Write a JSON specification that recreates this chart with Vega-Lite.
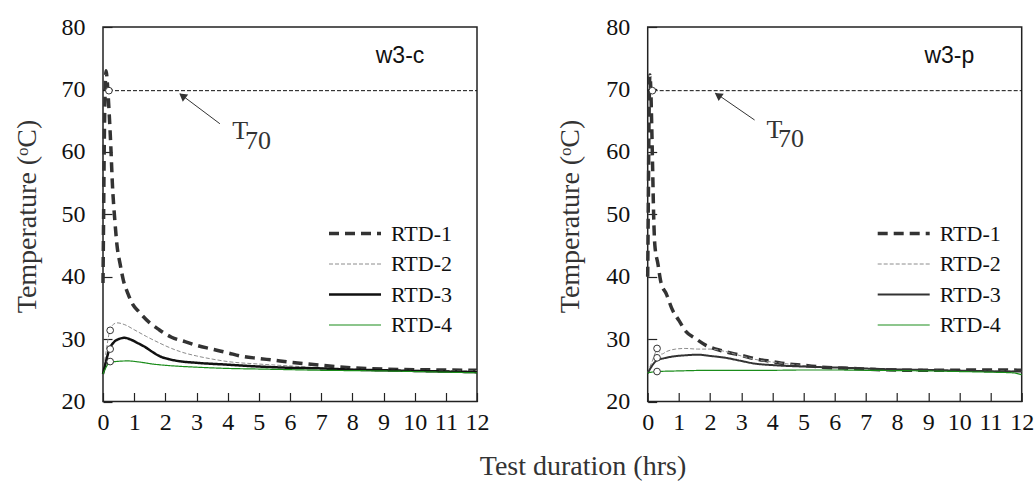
{
  "$schema": "https://vega.github.io/schema/vega-lite/v6.json",
  "autosize": {"type": "pad"},
  "padding": {"left": 12, "top": 14, "right": 10, "bottom": 5},
  "bounds": "flush",
  "spacing": 170.7,
  "background": "white",
  "datasets": {
    "series": [
      {"panel": "c", "rtd": "RTD-1", "t": 0, "T": 39},
      {"panel": "c", "rtd": "RTD-1", "t": 0.02, "T": 50},
      {"panel": "c", "rtd": "RTD-1", "t": 0.04, "T": 61},
      {"panel": "c", "rtd": "RTD-1", "t": 0.07, "T": 70},
      {"panel": "c", "rtd": "RTD-1", "t": 0.1, "T": 73},
      {"panel": "c", "rtd": "RTD-1", "t": 0.14, "T": 71},
      {"panel": "c", "rtd": "RTD-1", "t": 0.2, "T": 66},
      {"panel": "c", "rtd": "RTD-1", "t": 0.25, "T": 61},
      {"panel": "c", "rtd": "RTD-1", "t": 0.3, "T": 55},
      {"panel": "c", "rtd": "RTD-1", "t": 0.38, "T": 49},
      {"panel": "c", "rtd": "RTD-1", "t": 0.45, "T": 45},
      {"panel": "c", "rtd": "RTD-1", "t": 0.55, "T": 42},
      {"panel": "c", "rtd": "RTD-1", "t": 0.65, "T": 39.5},
      {"panel": "c", "rtd": "RTD-1", "t": 0.8, "T": 37.3},
      {"panel": "c", "rtd": "RTD-1", "t": 0.95, "T": 35.6},
      {"panel": "c", "rtd": "RTD-1", "t": 1.15, "T": 34.4},
      {"panel": "c", "rtd": "RTD-1", "t": 1.5, "T": 32.6},
      {"panel": "c", "rtd": "RTD-1", "t": 1.8, "T": 31.5},
      {"panel": "c", "rtd": "RTD-1", "t": 2.2, "T": 30.3},
      {"panel": "c", "rtd": "RTD-1", "t": 2.63, "T": 29.6},
      {"panel": "c", "rtd": "RTD-1", "t": 3.0, "T": 29.0},
      {"panel": "c", "rtd": "RTD-1", "t": 3.5, "T": 28.4},
      {"panel": "c", "rtd": "RTD-1", "t": 4.0, "T": 27.8},
      {"panel": "c", "rtd": "RTD-1", "t": 4.5, "T": 27.2},
      {"panel": "c", "rtd": "RTD-1", "t": 5.0, "T": 26.9},
      {"panel": "c", "rtd": "RTD-1", "t": 5.5, "T": 26.6},
      {"panel": "c", "rtd": "RTD-1", "t": 6.0, "T": 26.3},
      {"panel": "c", "rtd": "RTD-1", "t": 7.0, "T": 25.8},
      {"panel": "c", "rtd": "RTD-1", "t": 8.0, "T": 25.4},
      {"panel": "c", "rtd": "RTD-1", "t": 9.0, "T": 25.2},
      {"panel": "c", "rtd": "RTD-1", "t": 10.0, "T": 25.1},
      {"panel": "c", "rtd": "RTD-1", "t": 11.0, "T": 25.05},
      {"panel": "c", "rtd": "RTD-1", "t": 12.0, "T": 25.0},

      {"panel": "c", "rtd": "RTD-2", "t": 0, "T": 24.6},
      {"panel": "c", "rtd": "RTD-2", "t": 0.1, "T": 28},
      {"panel": "c", "rtd": "RTD-2", "t": 0.2, "T": 31},
      {"panel": "c", "rtd": "RTD-2", "t": 0.3, "T": 32.2},
      {"panel": "c", "rtd": "RTD-2", "t": 0.45, "T": 32.6},
      {"panel": "c", "rtd": "RTD-2", "t": 0.7, "T": 32.3},
      {"panel": "c", "rtd": "RTD-2", "t": 1.0, "T": 31.5},
      {"panel": "c", "rtd": "RTD-2", "t": 1.4, "T": 30.4},
      {"panel": "c", "rtd": "RTD-2", "t": 1.8, "T": 29.4},
      {"panel": "c", "rtd": "RTD-2", "t": 2.2, "T": 28.5},
      {"panel": "c", "rtd": "RTD-2", "t": 2.6, "T": 27.8},
      {"panel": "c", "rtd": "RTD-2", "t": 3.0, "T": 27.3},
      {"panel": "c", "rtd": "RTD-2", "t": 3.5, "T": 26.8},
      {"panel": "c", "rtd": "RTD-2", "t": 4.0, "T": 26.4},
      {"panel": "c", "rtd": "RTD-2", "t": 5.0, "T": 26.0},
      {"panel": "c", "rtd": "RTD-2", "t": 6.0, "T": 25.7},
      {"panel": "c", "rtd": "RTD-2", "t": 7.0, "T": 25.4},
      {"panel": "c", "rtd": "RTD-2", "t": 8.0, "T": 25.2},
      {"panel": "c", "rtd": "RTD-2", "t": 9.0, "T": 25.05},
      {"panel": "c", "rtd": "RTD-2", "t": 10.0, "T": 25.0},
      {"panel": "c", "rtd": "RTD-2", "t": 11.0, "T": 24.95},
      {"panel": "c", "rtd": "RTD-2", "t": 12.0, "T": 24.9},

      {"panel": "c", "rtd": "RTD-3", "t": 0, "T": 24.4},
      {"panel": "c", "rtd": "RTD-3", "t": 0.1, "T": 26.5},
      {"panel": "c", "rtd": "RTD-3", "t": 0.2, "T": 28.3},
      {"panel": "c", "rtd": "RTD-3", "t": 0.35, "T": 29.5},
      {"panel": "c", "rtd": "RTD-3", "t": 0.5, "T": 30.0},
      {"panel": "c", "rtd": "RTD-3", "t": 0.7, "T": 30.2},
      {"panel": "c", "rtd": "RTD-3", "t": 0.9, "T": 29.9},
      {"panel": "c", "rtd": "RTD-3", "t": 1.1, "T": 29.4},
      {"panel": "c", "rtd": "RTD-3", "t": 1.36, "T": 28.7},
      {"panel": "c", "rtd": "RTD-3", "t": 1.6, "T": 27.9},
      {"panel": "c", "rtd": "RTD-3", "t": 1.8, "T": 27.3},
      {"panel": "c", "rtd": "RTD-3", "t": 2.1, "T": 26.8},
      {"panel": "c", "rtd": "RTD-3", "t": 2.4, "T": 26.5},
      {"panel": "c", "rtd": "RTD-3", "t": 3.0, "T": 26.2},
      {"panel": "c", "rtd": "RTD-3", "t": 4.0, "T": 25.9},
      {"panel": "c", "rtd": "RTD-3", "t": 5.0, "T": 25.6},
      {"panel": "c", "rtd": "RTD-3", "t": 6.0, "T": 25.4},
      {"panel": "c", "rtd": "RTD-3", "t": 7.0, "T": 25.3},
      {"panel": "c", "rtd": "RTD-3", "t": 8.0, "T": 25.1},
      {"panel": "c", "rtd": "RTD-3", "t": 9.0, "T": 25.0},
      {"panel": "c", "rtd": "RTD-3", "t": 10.0, "T": 24.9},
      {"panel": "c", "rtd": "RTD-3", "t": 11.0, "T": 24.8},
      {"panel": "c", "rtd": "RTD-3", "t": 12.0, "T": 24.7},

      {"panel": "c", "rtd": "RTD-4", "t": 0, "T": 24.4},
      {"panel": "c", "rtd": "RTD-4", "t": 0.1, "T": 25.5},
      {"panel": "c", "rtd": "RTD-4", "t": 0.2, "T": 26.2},
      {"panel": "c", "rtd": "RTD-4", "t": 0.4, "T": 26.4},
      {"panel": "c", "rtd": "RTD-4", "t": 0.8, "T": 26.5},
      {"panel": "c", "rtd": "RTD-4", "t": 1.2, "T": 26.3},
      {"panel": "c", "rtd": "RTD-4", "t": 1.6, "T": 26.0},
      {"panel": "c", "rtd": "RTD-4", "t": 2.0, "T": 25.8},
      {"panel": "c", "rtd": "RTD-4", "t": 3.0, "T": 25.5},
      {"panel": "c", "rtd": "RTD-4", "t": 4.0, "T": 25.3},
      {"panel": "c", "rtd": "RTD-4", "t": 5.0, "T": 25.2},
      {"panel": "c", "rtd": "RTD-4", "t": 6.0, "T": 25.1},
      {"panel": "c", "rtd": "RTD-4", "t": 7.0, "T": 25.0},
      {"panel": "c", "rtd": "RTD-4", "t": 8.0, "T": 24.95},
      {"panel": "c", "rtd": "RTD-4", "t": 9.0, "T": 24.9},
      {"panel": "c", "rtd": "RTD-4", "t": 10.0, "T": 24.8},
      {"panel": "c", "rtd": "RTD-4", "t": 11.0, "T": 24.7},
      {"panel": "c", "rtd": "RTD-4", "t": 12.0, "T": 24.6},

      {"panel": "p", "rtd": "RTD-1", "t": 0, "T": 40},
      {"panel": "p", "rtd": "RTD-1", "t": 0.02, "T": 52},
      {"panel": "p", "rtd": "RTD-1", "t": 0.04, "T": 64},
      {"panel": "p", "rtd": "RTD-1", "t": 0.07, "T": 72.3},
      {"panel": "p", "rtd": "RTD-1", "t": 0.1, "T": 70},
      {"panel": "p", "rtd": "RTD-1", "t": 0.13, "T": 64},
      {"panel": "p", "rtd": "RTD-1", "t": 0.16, "T": 57},
      {"panel": "p", "rtd": "RTD-1", "t": 0.19, "T": 50},
      {"panel": "p", "rtd": "RTD-1", "t": 0.23, "T": 45},
      {"panel": "p", "rtd": "RTD-1", "t": 0.33, "T": 42},
      {"panel": "p", "rtd": "RTD-1", "t": 0.42, "T": 39.2},
      {"panel": "p", "rtd": "RTD-1", "t": 0.6, "T": 37.2},
      {"panel": "p", "rtd": "RTD-1", "t": 0.8, "T": 34.6},
      {"panel": "p", "rtd": "RTD-1", "t": 1.0, "T": 33.0},
      {"panel": "p", "rtd": "RTD-1", "t": 1.23, "T": 31.2},
      {"panel": "p", "rtd": "RTD-1", "t": 1.5, "T": 30.2},
      {"panel": "p", "rtd": "RTD-1", "t": 1.87, "T": 29.0},
      {"panel": "p", "rtd": "RTD-1", "t": 2.4, "T": 28.1},
      {"panel": "p", "rtd": "RTD-1", "t": 3.0, "T": 27.4},
      {"panel": "p", "rtd": "RTD-1", "t": 3.5, "T": 26.8},
      {"panel": "p", "rtd": "RTD-1", "t": 4.0, "T": 26.4},
      {"panel": "p", "rtd": "RTD-1", "t": 4.5, "T": 26.0},
      {"panel": "p", "rtd": "RTD-1", "t": 5.0, "T": 25.8},
      {"panel": "p", "rtd": "RTD-1", "t": 5.6, "T": 25.5},
      {"panel": "p", "rtd": "RTD-1", "t": 6.5, "T": 25.3},
      {"panel": "p", "rtd": "RTD-1", "t": 7.5, "T": 25.1},
      {"panel": "p", "rtd": "RTD-1", "t": 8.5, "T": 25.0},
      {"panel": "p", "rtd": "RTD-1", "t": 9.5, "T": 25.0},
      {"panel": "p", "rtd": "RTD-1", "t": 10.5, "T": 25.05},
      {"panel": "p", "rtd": "RTD-1", "t": 11.5, "T": 25.05},
      {"panel": "p", "rtd": "RTD-1", "t": 12.0, "T": 25.0},

      {"panel": "p", "rtd": "RTD-2", "t": 0, "T": 24.6},
      {"panel": "p", "rtd": "RTD-2", "t": 0.15, "T": 26.5},
      {"panel": "p", "rtd": "RTD-2", "t": 0.3, "T": 28.2},
      {"panel": "p", "rtd": "RTD-2", "t": 0.45, "T": 27.6},
      {"panel": "p", "rtd": "RTD-2", "t": 0.6, "T": 28.0},
      {"panel": "p", "rtd": "RTD-2", "t": 0.9, "T": 28.4},
      {"panel": "p", "rtd": "RTD-2", "t": 1.2, "T": 28.5},
      {"panel": "p", "rtd": "RTD-2", "t": 1.6, "T": 28.4},
      {"panel": "p", "rtd": "RTD-2", "t": 2.0, "T": 28.4},
      {"panel": "p", "rtd": "RTD-2", "t": 2.5, "T": 28.0},
      {"panel": "p", "rtd": "RTD-2", "t": 3.0, "T": 27.3},
      {"panel": "p", "rtd": "RTD-2", "t": 3.6, "T": 26.6},
      {"panel": "p", "rtd": "RTD-2", "t": 4.2, "T": 26.2},
      {"panel": "p", "rtd": "RTD-2", "t": 4.7, "T": 25.9},
      {"panel": "p", "rtd": "RTD-2", "t": 5.3, "T": 25.6},
      {"panel": "p", "rtd": "RTD-2", "t": 6.3, "T": 25.4},
      {"panel": "p", "rtd": "RTD-2", "t": 7.5, "T": 25.2},
      {"panel": "p", "rtd": "RTD-2", "t": 8.5, "T": 25.1},
      {"panel": "p", "rtd": "RTD-2", "t": 9.5, "T": 25.0},
      {"panel": "p", "rtd": "RTD-2", "t": 10.5, "T": 24.9},
      {"panel": "p", "rtd": "RTD-2", "t": 11.5, "T": 24.9},
      {"panel": "p", "rtd": "RTD-2", "t": 12.0, "T": 24.8},

      {"panel": "p", "rtd": "RTD-3", "t": 0, "T": 24.5},
      {"panel": "p", "rtd": "RTD-3", "t": 0.15, "T": 25.8},
      {"panel": "p", "rtd": "RTD-3", "t": 0.3, "T": 26.6},
      {"panel": "p", "rtd": "RTD-3", "t": 0.5, "T": 26.9},
      {"panel": "p", "rtd": "RTD-3", "t": 0.8, "T": 27.2},
      {"panel": "p", "rtd": "RTD-3", "t": 1.2, "T": 27.4},
      {"panel": "p", "rtd": "RTD-3", "t": 1.6, "T": 27.5},
      {"panel": "p", "rtd": "RTD-3", "t": 2.0, "T": 27.3},
      {"panel": "p", "rtd": "RTD-3", "t": 2.5, "T": 27.0},
      {"panel": "p", "rtd": "RTD-3", "t": 3.0, "T": 26.5},
      {"panel": "p", "rtd": "RTD-3", "t": 3.4, "T": 26.1},
      {"panel": "p", "rtd": "RTD-3", "t": 4.1, "T": 25.8},
      {"panel": "p", "rtd": "RTD-3", "t": 5.0, "T": 25.6},
      {"panel": "p", "rtd": "RTD-3", "t": 6.3, "T": 25.4},
      {"panel": "p", "rtd": "RTD-3", "t": 7.5, "T": 25.2},
      {"panel": "p", "rtd": "RTD-3", "t": 8.5, "T": 25.1},
      {"panel": "p", "rtd": "RTD-3", "t": 9.5, "T": 25.0},
      {"panel": "p", "rtd": "RTD-3", "t": 10.5, "T": 24.9},
      {"panel": "p", "rtd": "RTD-3", "t": 11.5, "T": 24.8},
      {"panel": "p", "rtd": "RTD-3", "t": 12.0, "T": 24.8},

      {"panel": "p", "rtd": "RTD-4", "t": 0, "T": 24.6},
      {"panel": "p", "rtd": "RTD-4", "t": 0.3, "T": 24.8},
      {"panel": "p", "rtd": "RTD-4", "t": 1.0, "T": 24.9},
      {"panel": "p", "rtd": "RTD-4", "t": 2.0, "T": 25.0},
      {"panel": "p", "rtd": "RTD-4", "t": 3.0, "T": 25.0},
      {"panel": "p", "rtd": "RTD-4", "t": 4.0, "T": 25.0},
      {"panel": "p", "rtd": "RTD-4", "t": 5.0, "T": 25.05},
      {"panel": "p", "rtd": "RTD-4", "t": 6.0, "T": 25.05},
      {"panel": "p", "rtd": "RTD-4", "t": 7.0, "T": 25.0},
      {"panel": "p", "rtd": "RTD-4", "t": 8.0, "T": 24.95},
      {"panel": "p", "rtd": "RTD-4", "t": 9.0, "T": 24.9},
      {"panel": "p", "rtd": "RTD-4", "t": 10.0, "T": 24.8},
      {"panel": "p", "rtd": "RTD-4", "t": 11.0, "T": 24.7},
      {"panel": "p", "rtd": "RTD-4", "t": 11.7, "T": 24.6},
      {"panel": "p", "rtd": "RTD-4", "t": 12.0, "T": 24.3}
    ],
    "circles": [
      {"panel": "c", "t": 0.19, "T": 69.8},
      {"panel": "c", "t": 0.23, "T": 31.4},
      {"panel": "c", "t": 0.23, "T": 28.4},
      {"panel": "c", "t": 0.23, "T": 26.4},
      {"panel": "p", "t": 0.15, "T": 69.8},
      {"panel": "p", "t": 0.3, "T": 28.5},
      {"panel": "p", "t": 0.3, "T": 27.0},
      {"panel": "p", "t": 0.3, "T": 24.8}
    ],
    "threshold": [
      {"t": 0, "T": 69.8, "t2": 12, "T2": 69.8}
    ],
    "arrows": [
      {"panel": "c", "t": 3.75, "T": 64.5, "t2": 2.47, "T2": 69.3},
      {"panel": "p", "t": 3.43, "T": 65.1, "t2": 2.18, "T2": 69.4}
    ],
    "heads": [
      {"panel": "c", "t": 2.58, "T": 68.85},
      {"panel": "p", "t": 2.29, "T": 68.95}
    ],
    "labels": [
      {"panel": "c", "kind": "main", "text": "T", "t": 4.4, "T": 63.4},
      {"panel": "c", "kind": "sub", "text": "70", "t": 4.97, "T": 61.7},
      {"panel": "c", "kind": "name", "text": "w3-c", "t": 9.53, "T": 75.3},
      {"panel": "p", "kind": "main", "text": "T", "t": 4.07, "T": 63.5},
      {"panel": "p", "kind": "sub", "text": "70", "t": 4.6, "T": 62.1},
      {"panel": "p", "kind": "name", "text": "w3-p", "t": 9.68, "T": 75.4}
    ]
  },
  "hconcat": [
    {
      "width": 374,
      "height": 374.5,
      "encoding": {
        "x": {"field": "t", "type": "quantitative", "scale": {"domain": [0, 12], "nice": false, "zero": false},
              "axis": {"values": [0,1,2,3,4,5,6,7,8,9,10,11,12], "labelOverlap": false, "title": "Test duration (hrs)", "titleX": 479.5, "titleY": 73, "titleBaseline": "alphabetic"}},
        "y": {"field": "T", "type": "quantitative", "scale": {"domain": [20, 80], "nice": false, "zero": false},
              "axis": {"values": [20,30,40,50,60,70,80], "labelOverlap": false, "title": "Temperature (ᵒC)", "titleX": -76, "titleY": 189, "titleBaseline": "middle", "titleAngle": 270}}
      },
      "layer": [
        {
          "data": {"name": "series"},
          "transform": [{"filter": "datum.panel === 'c'"}],
          "mark": {"type": "line", "interpolate": "monotone"},
          "encoding": {
            "color": {"field": "rtd", "type": "nominal", "scale": {"domain": ["RTD-1","RTD-2","RTD-3","RTD-4"], "range": ["#333333","#8c8c8c","#111111","#1a8c1a"]},
                      "legend": {"orient": "none", "legendX": 224, "legendY": 194.5, "title": null, "labelFont": "Liberation Serif", "labelFontSize": 22,
                                 "encode": {"symbols": {"update": {
                                   "strokeDash": {"signal": "datum.value === 'RTD-1' ? [7,8] : datum.value === 'RTD-2' ? [4,2] : [1,0]"},
                                   "strokeWidth": {"signal": "datum.value === 'RTD-1' ? 3.5 : datum.value === 'RTD-3' ? 2.5 : 1"}}}}}},
            "strokeDash": {"field": "rtd", "type": "nominal", "scale": {"domain": ["RTD-1","RTD-2","RTD-3","RTD-4"], "range": [[10,6],[4,2],[1,0],[1,0]]}, "legend": null},
            "strokeWidth": {"field": "rtd", "type": "nominal", "scale": {"type": "ordinal", "domain": ["RTD-1","RTD-2","RTD-3","RTD-4"], "range": [3.5, 1, 2.5, 1.2]}, "legend": null}
          }
        },
        {
          "data": {"name": "threshold"},
          "mark": {"type": "rule", "stroke": "#111", "strokeWidth": 1, "strokeDash": [4, 2]},
          "encoding": {"x2": {"field": "t2"}, "y2": {"field": "T2"}}
        },
        {
          "data": {"name": "circles"},
          "transform": [{"filter": "datum.panel === 'c'"}],
          "mark": {"type": "point", "shape": "circle", "size": 45, "filled": true, "fill": "white", "stroke": "#333", "strokeWidth": 1, "opacity": 1}
        },
        {
          "data": {"name": "arrows"},
          "transform": [{"filter": "datum.panel === 'c'"}],
          "mark": {"type": "rule", "stroke": "#333", "strokeWidth": 1},
          "encoding": {"x2": {"field": "t2"}, "y2": {"field": "T2"}}
        },
        {
          "data": {"name": "heads"},
          "transform": [{"filter": "datum.panel === 'c'"}],
          "mark": {"type": "point", "shape": "triangle", "size": 30, "filled": true, "fill": "#333", "stroke": "#333", "angle": 307, "opacity": 1}
        },
        {
          "data": {"name": "labels"},
          "transform": [{"filter": "datum.panel === 'c' && datum.kind !== 'name'"}],
          "mark": {"type": "text", "font": "Liberation Serif", "fontSize": 26, "color": "#333", "align": "center", "baseline": "middle"},
          "encoding": {"text": {"field": "text"}}
        },
        {
          "data": {"name": "labels"},
          "transform": [{"filter": "datum.panel === 'c' && datum.kind === 'name'"}],
          "mark": {"type": "text", "font": "Liberation Sans", "fontSize": 23, "color": "#111", "align": "center", "baseline": "middle"},
          "encoding": {"text": {"field": "text"}}
        }
      ]
    },
    {
      "width": 374,
      "height": 374.5,
      "encoding": {
        "x": {"field": "t", "type": "quantitative", "scale": {"domain": [0, 12], "nice": false, "zero": false},
              "axis": {"values": [0,1,2,3,4,5,6,7,8,9,10,11,12], "labelOverlap": false, "title": null}},
        "y": {"field": "T", "type": "quantitative", "scale": {"domain": [20, 80], "nice": false, "zero": false},
              "axis": {"values": [20,30,40,50,60,70,80], "labelOverlap": false, "title": "Temperature (ᵒC)", "titleX": -77, "titleY": 189, "titleBaseline": "middle", "titleAngle": 270}}
      },
      "layer": [
        {
          "data": {"name": "series"},
          "transform": [{"filter": "datum.panel === 'p'"}],
          "mark": {"type": "line", "interpolate": "monotone"},
          "encoding": {
            "color": {"field": "rtd", "type": "nominal", "scale": {"domain": ["RTD-1","RTD-2","RTD-3","RTD-4"], "range": ["#333333","#8c8c8c","#333333","#1a8c1a"]},
                      "legend": {"orient": "none", "legendX": 228, "legendY": 194.5, "title": null, "labelFont": "Liberation Serif", "labelFontSize": 22,
                                 "encode": {"symbols": {"update": {
                                   "strokeDash": {"signal": "datum.value === 'RTD-1' ? [7,8] : datum.value === 'RTD-2' ? [4,2] : [1,0]"},
                                   "strokeWidth": {"signal": "datum.value === 'RTD-1' ? 3.5 : datum.value === 'RTD-3' ? 2 : 1"}}}}}},
            "strokeDash": {"field": "rtd", "type": "nominal", "scale": {"domain": ["RTD-1","RTD-2","RTD-3","RTD-4"], "range": [[10,6],[4,2],[1,0],[1,0]]}, "legend": null},
            "strokeWidth": {"field": "rtd", "type": "nominal", "scale": {"type": "ordinal", "domain": ["RTD-1","RTD-2","RTD-3","RTD-4"], "range": [3.5, 1, 2, 1.2]}, "legend": null}
          }
        },
        {
          "data": {"name": "threshold"},
          "mark": {"type": "rule", "stroke": "#111", "strokeWidth": 1, "strokeDash": [4, 2]},
          "encoding": {"x2": {"field": "t2"}, "y2": {"field": "T2"}}
        },
        {
          "data": {"name": "circles"},
          "transform": [{"filter": "datum.panel === 'p'"}],
          "mark": {"type": "point", "shape": "circle", "size": 45, "filled": true, "fill": "white", "stroke": "#333", "strokeWidth": 1, "opacity": 1}
        },
        {
          "data": {"name": "arrows"},
          "transform": [{"filter": "datum.panel === 'p'"}],
          "mark": {"type": "rule", "stroke": "#333", "strokeWidth": 1},
          "encoding": {"x2": {"field": "t2"}, "y2": {"field": "T2"}}
        },
        {
          "data": {"name": "heads"},
          "transform": [{"filter": "datum.panel === 'p'"}],
          "mark": {"type": "point", "shape": "triangle", "size": 30, "filled": true, "fill": "#333", "stroke": "#333", "angle": 305, "opacity": 1}
        },
        {
          "data": {"name": "labels"},
          "transform": [{"filter": "datum.panel === 'p' && datum.kind !== 'name'"}],
          "mark": {"type": "text", "font": "Liberation Serif", "fontSize": 26, "color": "#333", "align": "center", "baseline": "middle"},
          "encoding": {"text": {"field": "text"}}
        },
        {
          "data": {"name": "labels"},
          "transform": [{"filter": "datum.panel === 'p' && datum.kind === 'name'"}],
          "mark": {"type": "text", "font": "Liberation Sans", "fontSize": 23, "color": "#111", "align": "center", "baseline": "middle"},
          "encoding": {"text": {"field": "text"}}
        }
      ]
    }
  ],
  "resolve": {"scale": {"color": "independent", "strokeDash": "independent", "strokeWidth": "independent"}, "legend": {"color": "independent"}},
  "config": {
    "view": {"stroke": "#222", "strokeWidth": 1.5},
    "axis": {
      "domain": false, "grid": false, "labelFlush": false, "labelOverlap": false,
      "labelFont": "Liberation Serif", "labelFontSize": 24, "labelColor": "#111",
      "titleFont": "Liberation Serif", "titleFontSize": 28, "titleFontWeight": "normal", "titleColor": "#333",
      "tickColor": "#222", "tickSize": -9, "tickWidth": 1.2
    },
    "axisY": {"labelPadding": 27},
    "axisX": {"labelPadding": 18},
    "legend": {
      "labelFont": "Liberation Serif", "labelFontSize": 22, "labelColor": "#111",
      "symbolType": "stroke", "symbolSize": 2704, "labelOffset": 8, "padding": 0, "rowPadding": 6.5, "clipHeight": 24
    }
  }
}
